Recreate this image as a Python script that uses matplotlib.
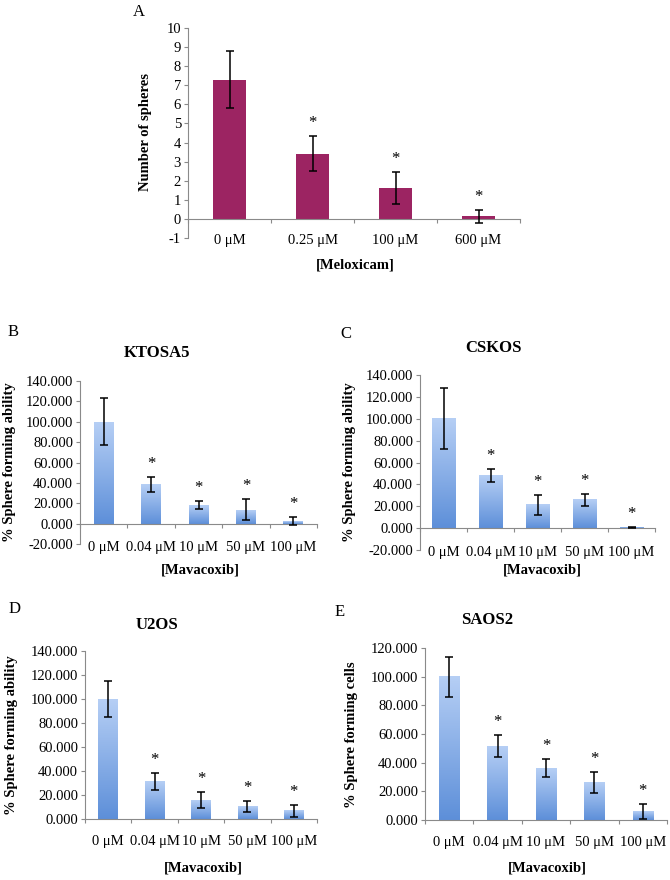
import numpy as np
import matplotlib
matplotlib.use('Agg')
import matplotlib.pyplot as plt
from matplotlib.colors import LinearSegmentedColormap

plt.rcParams['font.family'] = ['Liberation Serif', 'DejaVu Serif']

# Panel A: meloxicam
meloxicam_labels = ['0 μM', '0.25 μM', '100 μM', '600 μM']
meloxicam_spheres = [7.30, 3.42, 1.62, 0.14]
meloxicam_err = [1.48, 0.91, 0.83, 0.35]
meloxicam_sig = [False, True, True, True]

# Panels B-E: mavacoxib
mavacoxib_labels = ['0 μM', '0.04 μM', '10 μM', '50 μM', '100 μM']
mavacoxib_sig = [False, True, True, True, True]

ktosa5_pct = [100.0, 38.5, 18.3, 13.6, 2.4]
ktosa5_err = [23.0, 7.0, 3.5, 10.4, 4.0]

cskos_pct = [100.0, 48.2, 21.2, 25.9, 0.5]
cskos_err = [28.0, 6.0, 8.8, 5.5, 0.4]

u2os_pct = [100.0, 31.3, 15.5, 10.3, 6.8]
u2os_err = [15.0, 7.2, 6.7, 4.7, 5.2]

saos2_pct = [100.0, 51.5, 36.2, 26.2, 6.0]
saos2_err = [14.0, 7.8, 6.5, 7.1, 5.4]

W, H = 670, 880
fig = plt.figure(figsize=(W / 100, H / 100), dpi=100)

GREY = '#8a8a8a'
blue_cmap = LinearSegmentedColormap.from_list('xl_blue', ['#b6cff5', '#5d8fd9'])
gradient = np.linspace(0, 1, 256).reshape(-1, 1)


def axes_px(left, top, right, bottom):
    return fig.add_axes([left / W, 1 - bottom / H, (right - left) / W, (bottom - top) / H])


def text_px(x, y, s, **kw):
    fig.text(x / W, 1 - y / H, s, ha='center', va='center', **kw)


def draw_panel(ax, labels, values, errors, sig, ymin, ymax, step, fmt,
               bar_width, label_offset, color=None):
    x = np.arange(len(labels))
    bars = ax.bar(x, values, width=bar_width,
                  color=color if color else 'none', linewidth=0, zorder=2)
    if color is None:
        # excel-style vertical gradient fill
        for b in bars:
            ax.imshow(gradient, cmap=blue_cmap, aspect='auto', zorder=2,
                      extent=(b.get_x(), b.get_x() + b.get_width(),
                              b.get_y(), b.get_y() + b.get_height()))
    ax.errorbar(x, values, yerr=errors, fmt='none', ecolor='black',
                elinewidth=1.1, capsize=2.8, capthick=1.1, zorder=3)
    for xi, v, e, s in zip(x, values, errors, sig):
        if s:
            ax.annotate('*', (xi, v + e), xytext=(0, 6.5), textcoords='offset points',
                        ha='center', va='baseline', fontsize=12)

    ax.set_xlim(-0.5, len(labels) - 0.5)
    ax.set_ylim(ymin, ymax)
    yticks = np.arange(ymin, ymax + step / 2, step)
    ax.set_yticks(yticks)
    ax.set_yticklabels([fmt.format(t) for t in yticks], fontsize=10.5)

    for side in ['top', 'right']:
        ax.spines[side].set_visible(False)
    ax.spines['bottom'].set_position(('data', 0))
    for side in ['left', 'bottom']:
        ax.spines[side].set_color(GREY)
        ax.spines[side].set_linewidth(0.8)
    ax.set_xticks(np.arange(-0.5, len(labels)))
    ax.set_xticklabels([])
    ax.tick_params(axis='both', direction='out', length=3, width=0.8, color=GREY)
    ax.tick_params(axis='y', pad=2)

    for xi, lab in zip(x, labels):
        ax.annotate(lab, (xi, ymin), xytext=(0, label_offset), textcoords='offset points',
                    ha='center', va='center', fontsize=10.5)


# Panel A
axA = axes_px(188, 28, 520, 238)
draw_panel(axA, meloxicam_labels, meloxicam_spheres, meloxicam_err, meloxicam_sig,
           -1, 10, 1, '{:.0f}', 0.4, -1.5, color='#9c2462')
text_px(139, 12, 'A', fontsize=12)
text_px(145, 132, 'Number of spheres', fontsize=10.5, fontweight='bold', rotation=90)
text_px(355, 265, '[Meloxicam]', fontsize=10.5, fontweight='bold')

# Panel B
axB = axes_px(80, 381, 317, 544)
draw_panel(axB, mavacoxib_labels, ktosa5_pct, ktosa5_err, mavacoxib_sig,
           -20, 140, 20, '{:.3f}', 0.42, -2.5)
text_px(13, 332, 'B', fontsize=12)
text_px(157, 353, 'KTOSA5', fontsize=12, fontweight='bold')
text_px(10, 462, '% Sphere forming ability', fontsize=10.5, fontweight='bold', rotation=90)
text_px(200, 570, '[Mavacoxib]', fontsize=10.5, fontweight='bold')

# Panel C
axC = axes_px(420, 375, 655, 550)
draw_panel(axC, mavacoxib_labels, cskos_pct, cskos_err, mavacoxib_sig,
           -20, 140, 20, '{:.3f}', 0.5, -1.5)
text_px(346, 334, 'C', fontsize=12)
text_px(493, 348, 'CSKOS', fontsize=12, fontweight='bold')
text_px(350, 462, '% Sphere forming ability', fontsize=10.5, fontweight='bold', rotation=90)
text_px(542, 570, '[Mavacoxib]', fontsize=10.5, fontweight='bold')

# Panel D
axD = axes_px(85, 651, 317, 819)
draw_panel(axD, mavacoxib_labels, u2os_pct, u2os_err, mavacoxib_sig,
           0, 140, 20, '{:.3f}', 0.42, -16)
text_px(15, 609, 'D', fontsize=12)
text_px(157, 625, 'U2OS', fontsize=12, fontweight='bold')
text_px(12, 735, '% Sphere forming ability', fontsize=10.5, fontweight='bold', rotation=90)
text_px(203, 868, '[Mavacoxib]', fontsize=10.5, fontweight='bold')

# Panel E
axE = axes_px(425, 648, 667, 820)
draw_panel(axE, mavacoxib_labels, saos2_pct, saos2_err, mavacoxib_sig,
           0, 120, 20, '{:.3f}', 0.42, -16)
text_px(340, 612, 'E', fontsize=12)
text_px(487, 620, 'SAOS2', fontsize=12, fontweight='bold')
text_px(352, 735, '% Sphere forming cells', fontsize=10.5, fontweight='bold', rotation=90)
text_px(547, 868, '[Mavacoxib]', fontsize=10.5, fontweight='bold')

fig.savefig('out.png', dpi=100)
